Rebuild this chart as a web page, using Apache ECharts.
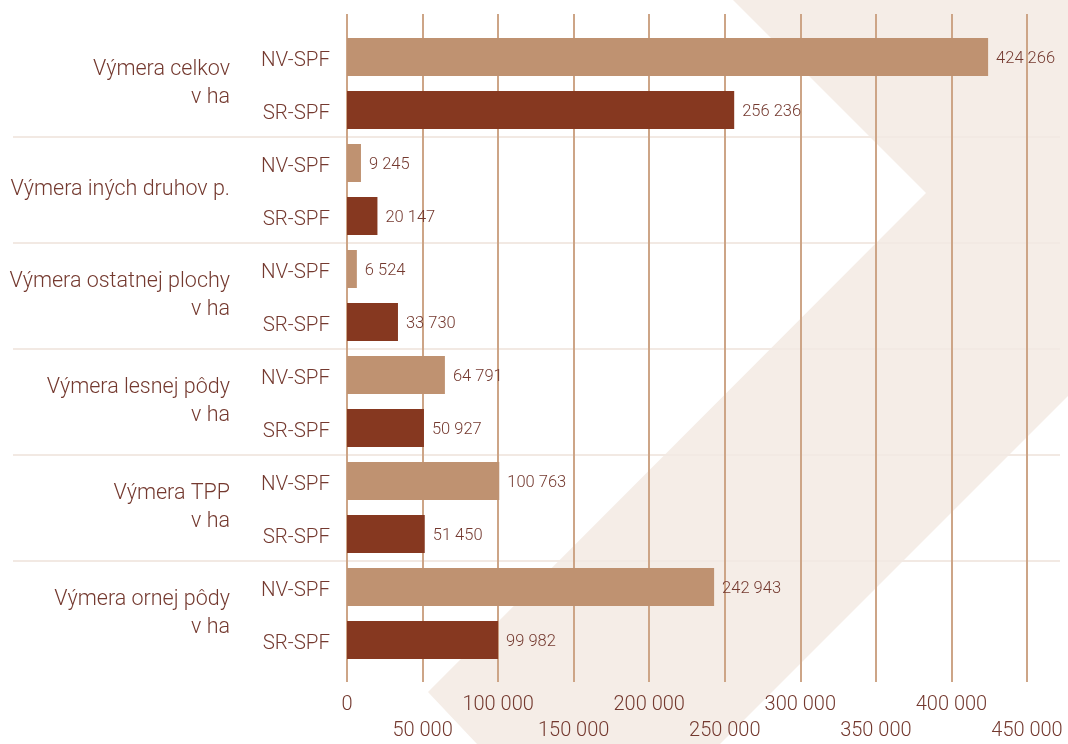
<!DOCTYPE html>
<html>
<head>
<meta charset="utf-8">
<script src="https://cdn.jsdelivr.net/npm/echarts@6/dist/echarts.min.js"></script>
<style>
html,body{margin:0;padding:0;background:#fff;}
#chart{width:1068px;height:744px;}
</style>
</head>
<body>
<div id="chart"></div>
<script>
const groups = ['Výmera celkov\nv ha', 'Výmera iných druhov p.', 'Výmera ostatnej plochy\nv ha', 'Výmera lesnej pôdy\nv ha', 'Výmera TPP\nv ha', 'Výmera ornej pôdy\nv ha'];
const seriesNames = ['NV-SPF', 'SR-SPF'];
const nvSpf = [424266, 9245, 6524, 64791, 100763, 242943];
const srSpf = [256236, 20147, 33730, 50927, 51450, 99982];
const xMin = 0, xMax = 450000, xStep = 50000;

const NV_COLOR = '#bf9271';
const SR_COLOR = '#863820';
const TEXT = '#74392f';
const GRIDC = '#cda587';
const FONT = 'Roboto, "Noto Sans", sans-serif';

const fmt = v => String(v).replace(/\B(?=(\d{3})+(?!\d))/g, ' ');
const rows = groups.flatMap(() => seriesNames);
const barData = groups.flatMap((g, i) => [
  { value: nvSpf[i], itemStyle: { color: NV_COLOR } },
  { value: srSpf[i], itemStyle: { color: SR_COLOR } }
]);

const chart = echarts.init(document.getElementById('chart'), null, { renderer: 'canvas' });
chart.setOption({
  backgroundColor: '#ffffff',
  animation: false,
  textStyle: { fontFamily: FONT },
  graphic: [{
    type: 'polygon',
    z: -10,
    silent: true,
    shape: { points: [[733, 0], [1068, 0], [1068, 396], [720, 744], [477, 744], [428, 692], [926, 193]] },
    style: { fill: '#f5ede7' }
  }],
  grid: [
    { left: 347, right: 41, top: 14, bottom: 60 },
    { left: 347, right: 41, top: 30.5, height: 636 },
    { left: 13, right: 8, top: 30.5, height: 636 }
  ],
  xAxis: [
    {
      gridIndex: 0, type: 'value', min: xMin, max: xMax, interval: xStep,
      axisLine: { show: false }, axisTick: { show: false },
      splitLine: { show: true, lineStyle: { color: GRIDC, width: 2 } },
      axisLabel: {
        margin: 10, color: TEXT, fontSize: 20, fontWeight: 300, lineHeight: 26, fontFamily: FONT,
        formatter: (v, idx) => (Math.round(v / xStep) % 2 === 1 ? '\n' : '') + fmt(v)
      }
    },
    { gridIndex: 1, type: 'value', min: xMin, max: xMax, show: false },
    { gridIndex: 2, type: 'value', min: 0, max: 1, show: false }
  ],
  yAxis: [
    { gridIndex: 0, type: 'value', show: false },
    {
      gridIndex: 1, type: 'category', data: rows, inverse: true,
      axisLine: { show: false }, axisTick: { show: false }, splitLine: { show: false },
      axisLabel: { interval: 0, margin: 17, color: TEXT, fontSize: 20.5, fontWeight: 300, fontFamily: FONT, verticalAlign: 'top', lineHeight: 7 }
    },
    {
      gridIndex: 1, type: 'category', data: groups, inverse: true, position: 'left',
      axisLine: { show: false }, axisTick: { show: false }, splitLine: { show: false },
      axisLabel: { interval: 0, margin: 117, color: TEXT, fontSize: 21.5, fontWeight: 300, lineHeight: 28, align: 'right', fontFamily: FONT }
    },
    {
      gridIndex: 2, type: 'category', data: groups, inverse: true,
      axisLine: { show: false }, axisTick: { show: false }, axisLabel: { show: false },
      splitLine: { show: true, showMinLine: false, showMaxLine: false, lineStyle: { color: '#f2e9e3', width: 2 } }
    }
  ],
  series: [{
    type: 'bar',
    xAxisIndex: 1,
    yAxisIndex: 1,
    data: barData,
    barWidth: 38,
    label: {
      show: true, position: 'right', distance: 8, offset: [0, 2],
      color: TEXT, fontSize: 16.5, fontWeight: 300, fontFamily: FONT,
      formatter: p => fmt(p.value)
    }
  }]
});
</script>
</body>
</html>
